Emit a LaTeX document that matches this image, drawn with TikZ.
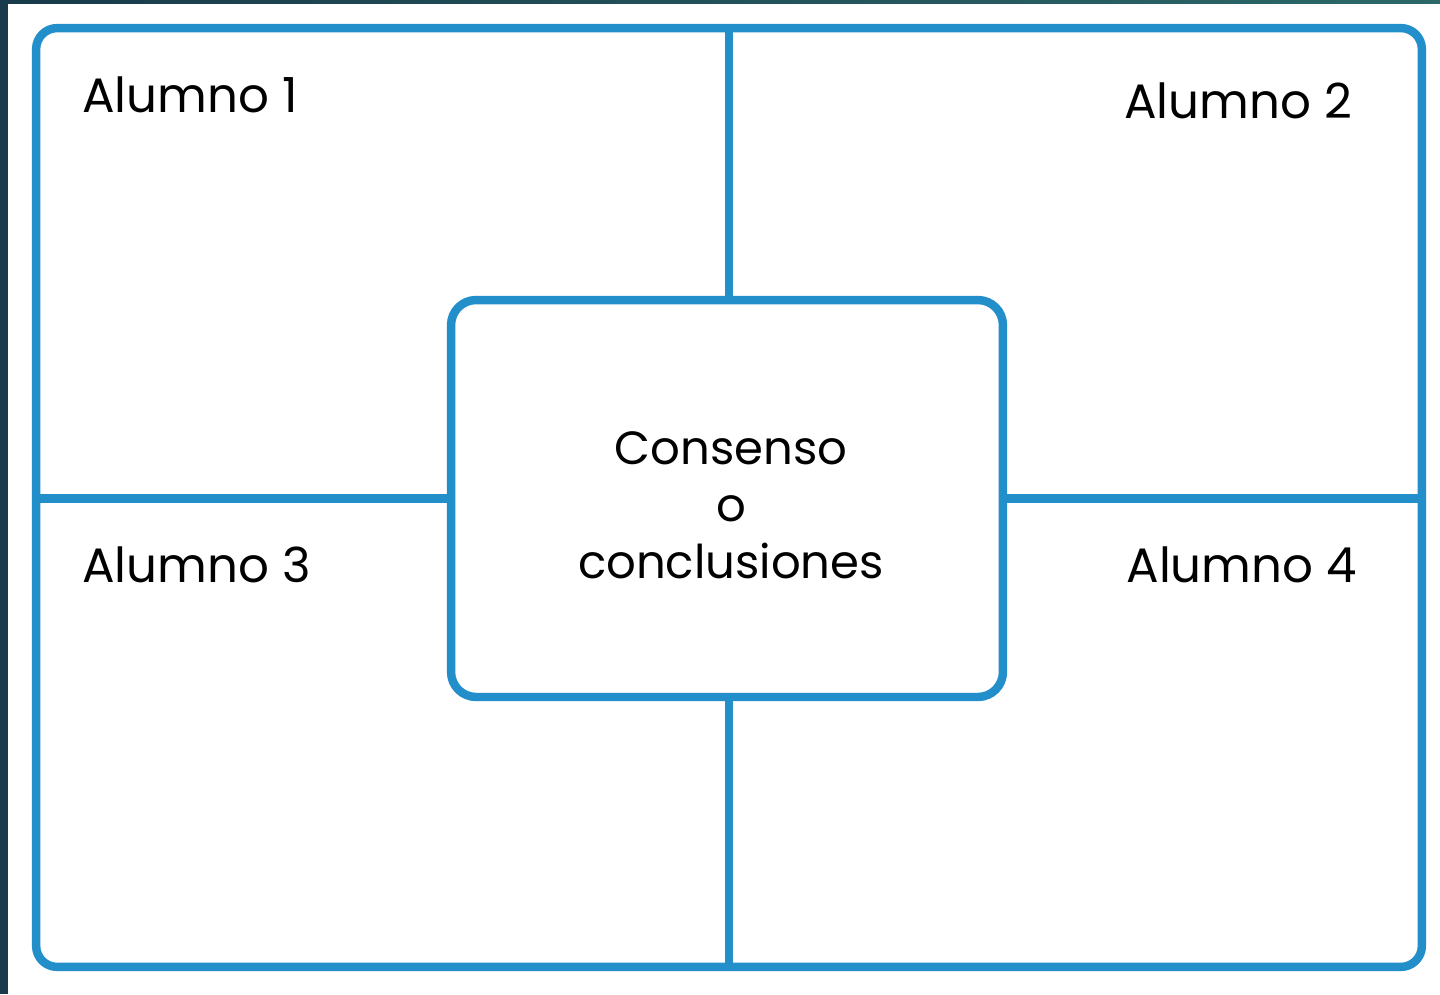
\documentclass[tikz,border=0pt]{standalone}
\usepackage{fontspec}
\setmainfont{Poppins}
\usepackage{xcolor}
\usepackage{tikz}
\usetikzlibrary{positioning}

\definecolor{lineblue}{RGB}{34,142,202}
\definecolor{darkband}{RGB}{24,58,74}
\definecolor{tealband}{RGB}{44,104,104}

\begin{document}
\begin{tikzpicture}[x=0.02cm, y=-0.02cm, line width=4.8pt,
    frame/.style={draw=lineblue, rounded corners=0.42cm, outer sep=0pt, inner sep=0pt},
    label/.style={font=\fontsize{27.5}{33}\selectfont, inner sep=0pt},
    divider/.style={draw=lineblue}]
    \useasboundingbox (0,0) rectangle (1440,994);
    % background and edge bands
    \fill[white] (0,0) rectangle (1440,994);
    \fill[darkband] (0,0) rectangle (8,994);
    \shade[left color=darkband, right color=tealband, draw=none] (0,0) rectangle (1440,3);
    % outer frame and centre box
    \node[frame, minimum width=27.72cm, minimum height=18.78cm] (F) at (729,497.5) {};
    \node[frame, rounded corners=0.5cm, minimum width=11.04cm, minimum height=7.94cm] (C) at (727,498.5) {};
    \node[align=center, inner sep=0pt, font=\fontsize{26.5}{32.4}\selectfont]
        (T) at ([xshift=0.08cm, yshift=-0.14cm]C.center) {Consenso\\o\\conclusiones};
    \draw[divider] (C.north -| F.center) -- (F.north);
    \draw[divider] (C.south -| F.center) -- (F.south);
    \draw[divider] (C.west) -- (C.west -| F.west);
    \draw[divider] (C.east) -- (C.east -| F.east);
    % labels
    \node[label, anchor=base west] (A1) at (78,112) {Alumno 1};
    \node[label, anchor=base east] (A2) at (1356,118) {Alumno 2};
    \node[label, anchor=base west] (A3) at (78,582) {Alumno 3};
    \node[label, anchor=base east] (A4) at (1361,582) {Alumno 4};
\end{tikzpicture}
\end{document}
